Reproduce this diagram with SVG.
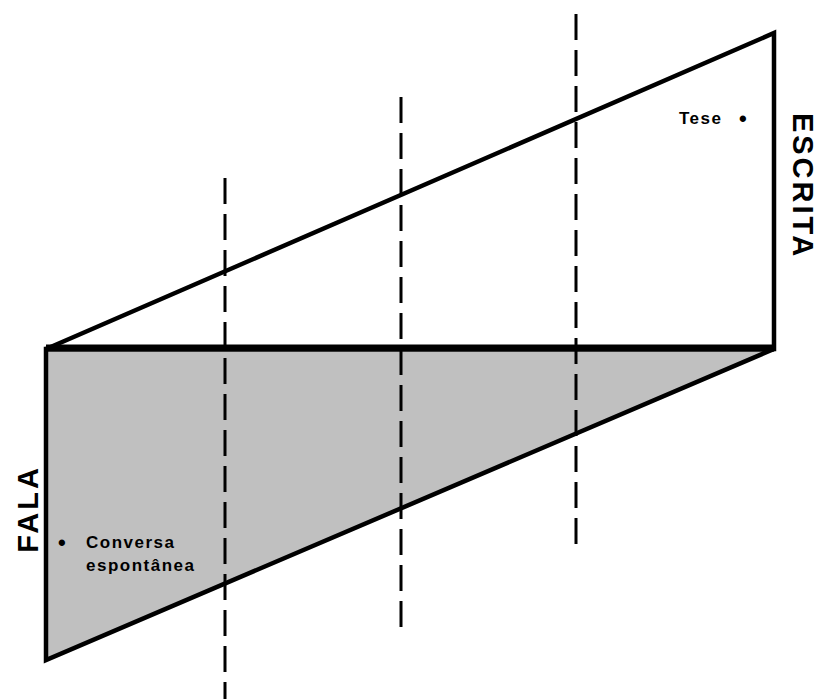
<svg xmlns="http://www.w3.org/2000/svg" width="824" height="699" viewBox="0 0 824 699">
<style>
.shape{stroke:#000;stroke-width:4.5;stroke-linejoin:miter}
.dash{stroke:#000;stroke-width:3;stroke-dasharray:26 10;fill:none}
.lbl{font-family:"Liberation Sans",Arial,sans-serif;font-weight:bold;fill:#000}
.small{font-size:17px;letter-spacing:1.5px}
.bul{font-size:22px}
.big{font-size:29px;letter-spacing:3px}
</style>
<rect width="824" height="699" fill="#fff"/>
<g id="fala-area">
<polygon class="shape" points="46,349 774,349 46,660" fill="#c0c0c0"/>
</g>
<g id="escrita-area">
<polygon class="shape" points="46,349 774,33 774,349" fill="#fff"/>
</g>
<g id="connectors">
<line x1="46" y1="348" x2="774" y2="348" stroke="#000" stroke-width="7"/>
<line class="dash" x1="225" y1="178" x2="225" y2="699"/>
<line class="dash" x1="401" y1="97" x2="401" y2="627"/>
<line class="dash" x1="576" y1="14" x2="576" y2="545"/>
</g>
<g id="tese">
<text class="lbl small" x="679" y="124">Tese</text>
<text class="lbl bul" x="739" y="126">•</text>
</g>
<g id="conversa">
<text class="lbl bul" x="58" y="550">•</text>
<text class="lbl small" x="86" y="548">Conversa</text>
<text class="lbl small" x="86" y="571">espontânea</text>
</g>
<g id="escrita">
<text class="lbl big" text-anchor="middle" transform="translate(793,186) rotate(90)">ESCRITA</text>
</g>
<g id="fala">
<text class="lbl big" text-anchor="middle" transform="translate(38,509) rotate(-90)">FALA</text>
</g>
</svg>
